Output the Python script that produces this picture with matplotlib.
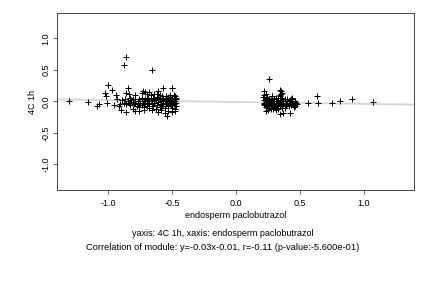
import matplotlib
matplotlib.use("Agg")
import matplotlib.pyplot as plt

plt.rcParams['font.family'] = ['Liberation Sans', 'DejaVu Sans']

# Left cluster (endosperm paclobutrazol < 0)
left_x = [-1.31, -1.16, -1.09, -1.07, -1.03, -1.02, -1.00, -1.01, -0.97, -0.96,
          -0.94, -0.93, -0.90, -0.88, -0.86, -0.85, -0.86, -0.84, -0.81, -0.79,
          -0.86, -0.73, -0.71, -0.66, -0.67, -0.64, -0.61, -0.57, -0.59, -0.56,
          -0.54, -0.50, -0.50, -0.50, -0.48,
          -0.88, -0.87, -0.86, -0.85, -0.84, -0.83, -0.82, -0.81, -0.80, -0.79,
          -0.78, -0.77, -0.77, -0.76, -0.75, -0.74, -0.74, -0.73, -0.72, -0.72,
          -0.71, -0.70, -0.70, -0.69, -0.68, -0.68, -0.67, -0.66, -0.66, -0.65,
          -0.65, -0.64, -0.63, -0.63, -0.62, -0.62, -0.61, -0.60, -0.60, -0.59,
          -0.59, -0.58, -0.58, -0.57, -0.57, -0.56, -0.56, -0.55, -0.55, -0.54,
          -0.54, -0.53, -0.53, -0.52, -0.52, -0.52, -0.51, -0.51, -0.51, -0.50,
          -0.50, -0.50, -0.50, -0.49, -0.49, -0.49, -0.48, -0.48, -0.48, -0.48,
          -0.47, -0.47, -0.47, -0.47, -0.53, -0.55, -0.57, -0.61, -0.64, -0.69,
          -0.71, -0.76, -0.79, -0.81, -0.83, -0.89, -0.91, -0.92,
          -0.62, -0.60, -0.58, -0.55, -0.52, -0.49, -0.70, -0.68, -0.74, -0.79,
          -0.66, -0.61, -0.53, -0.50, -0.72, -0.76]
left_y = [0.005, -0.01, -0.07, -0.05, 0.13, 0.08, 0.26, -0.03, 0.18, -0.06,
          0.10, 0.04, -0.14, 0.57, 0.71, 0.21, 0.14, 0.12, -0.12, -0.16,
          -0.17, 0.17, 0.15, 0.50, 0.10, 0.12, 0.17, 0.22, -0.14, -0.19,
          -0.23, 0.22, 0.21, -0.16, -0.16,
          -0.02, 0.03, -0.05, 0.01, -0.03, -0.06, 0.02, -0.01, -0.04, 0.04,
          -0.08, 0.00, -0.05, 0.03, -0.02, -0.06, 0.05, -0.03, 0.01, -0.09,
          -0.04, 0.02, -0.07, 0.06, -0.02, -0.10, 0.03, -0.05, 0.00, -0.08,
          0.05, -0.03, 0.02, -0.12, -0.06, 0.07, -0.01, 0.04, -0.09, 0.00,
          -0.04, 0.03, -0.07, 0.06, -0.02, 0.01, -0.11, 0.04, -0.05, 0.02,
          -0.03, 0.07, -0.08, 0.00, -0.04, 0.05, 0.03, -0.06, -0.01, 0.02,
          -0.03, 0.06, -0.10, 0.01, -0.05, 0.04, -0.02, 0.08, -0.12, 0.00,
          0.03, -0.07, -0.03, 0.05, 0.03, 0.00, 0.02, 0.05, 0.04, -0.03,
          0.04, -0.09, -0.02, 0.03, 0.05, 0.02, -0.04, -0.08,
          0.12, 0.10, 0.08, 0.09, 0.10, 0.10, 0.11, 0.15, 0.13, 0.10,
          -0.14, -0.17, -0.15, -0.17, -0.13, -0.15]

# Right cluster (endosperm paclobutrazol > 0)
right_x = [0.22, 0.26, 0.21, 0.23, 0.34, 0.35, 0.34, 0.28, 0.31, 0.37,
           0.34, 0.42, 0.43, 0.44, 0.48, 0.56, 0.63, 0.64, 0.75, 0.81,
           0.91, 1.07,
           0.22, 0.22, 0.22, 0.23, 0.23, 0.23, 0.24, 0.24, 0.24, 0.25,
           0.25, 0.25, 0.26, 0.26, 0.26, 0.27, 0.27, 0.27, 0.28, 0.28,
           0.28, 0.29, 0.29, 0.29, 0.30, 0.30, 0.30, 0.31, 0.31, 0.32,
           0.32, 0.33, 0.33, 0.34, 0.34, 0.35, 0.35, 0.36, 0.36, 0.36,
           0.37, 0.37, 0.38, 0.38, 0.39, 0.40, 0.40, 0.41, 0.41, 0.42,
           0.43, 0.44, 0.44, 0.45, 0.46, 0.46, 0.47, 0.35, 0.36, 0.34,
           0.22, 0.23, 0.24, 0.31, 0.28, 0.25, 0.29, 0.33, 0.38, 0.44,
           0.45, 0.23, 0.24, 0.25, 0.26, 0.27, 0.28, 0.30, 0.32, 0.22,
           0.23, 0.24, 0.26, 0.27, 0.29, 0.31, 0.33, 0.35, 0.39, 0.42]
right_y = [0.16, 0.35, 0.07, -0.15, 0.18, 0.17, 0.10, 0.09, -0.14, -0.18,
           -0.20, -0.18, 0.04, 0.01, -0.05, -0.03, 0.08, -0.02, -0.03, 0.01,
           0.03, -0.005,
           -0.02, -0.06, 0.02, -0.04, -0.09, 0.03, -0.01, -0.07, 0.05, -0.03,
           -0.10, 0.01, -0.05, 0.03, -0.08, -0.02, -0.12, 0.02, -0.06, 0.04,
           -0.03, -0.09, 0.00, -0.05, -0.02, -0.07, 0.03, -0.04, -0.10, 0.01,
           -0.06, -0.03, 0.05, -0.08, -0.01, 0.02, -0.05, -0.02, -0.10, 0.06,
           -0.04, 0.00, -0.07, 0.03, -0.02, -0.05, 0.04, -0.08, 0.00, -0.03,
           -0.06, 0.03, -0.01, -0.04, -0.07, 0.01, -0.03, 0.12, 0.14, 0.08,
           0.10, 0.12, 0.07, 0.05, 0.08, -0.14, -0.12, -0.12, -0.11, 0.05,
           -0.09, 0.00, -0.03, -0.06, -0.01, -0.04, -0.07, -0.05, -0.08, -0.04,
           -0.01, -0.05, -0.03, 0.00, -0.06, -0.08, -0.02, -0.04, -0.06, 0.02]

xs = left_x + right_x
ys = left_y + right_y

slope = -0.03
intercept = -0.01
xticks = [-1.0, -0.5, 0.0, 0.5, 1.0]
yticks = [-1.0, -0.5, 0.0, 0.5, 1.0]

fig = plt.figure(figsize=(6, 4), dpi=72)
ax = fig.add_axes([0.1327, 0.340, 0.825, 0.614])
xlim = (-1.40, 1.39)
ax.set_xlim(*xlim)
ax.set_ylim(-1.41, 1.40)

ax.plot(list(xlim), [slope * xlim[0] + intercept, slope * xlim[1] + intercept],
        color='#d6d6d6', lw=1.8, zorder=1)
ax.scatter(xs, ys, marker='+', s=28, c='black', linewidths=1.0, zorder=2)

ax.set_xticks(xticks)
ax.set_yticks(yticks)
ax.set_xticklabels([f"{t:.1f}" for t in xticks], fontsize=9)
ax.set_yticklabels([f"{t:.1f}" for t in yticks], fontsize=9, rotation=90, va='center')
ax.tick_params(axis='x', length=4, width=0.6, direction='out', pad=5)
ax.tick_params(axis='y', length=4, width=0.6, direction='out', pad=3)
for s in ax.spines.values():
    s.set_linewidth(0.7)

ax.set_xlabel("endosperm paclobutrazol", fontsize=9, labelpad=3)
ax.set_ylabel("4C 1h", fontsize=9, labelpad=4)

fig.text(0.516, 1 - 233 / 288, "yaxis: 4C 1h, xaxis: endosperm paclobutrazol",
         ha='center', va='center', fontsize=9)
fig.text(0.516, 1 - 248 / 288,
         "Correlation of module: y=-0.03x-0.01, r=-0.11 (p-value:-5.600e-01)",
         ha='center', va='center', fontsize=9.2)

fig.savefig("out.png", dpi=72)
